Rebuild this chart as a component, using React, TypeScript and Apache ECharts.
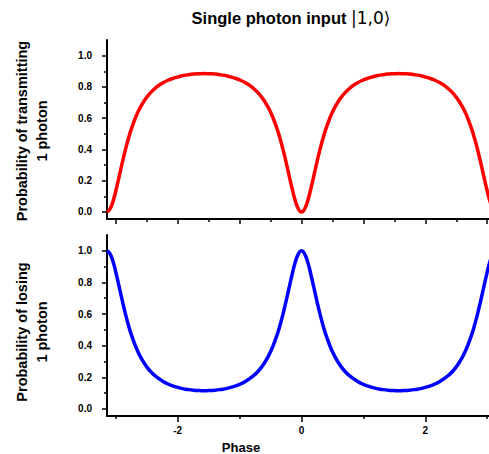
import React, { useEffect, useRef } from "react";
import * as echarts from "echarts";

const phase = [
  -3.142, -3.092, -3.042, -2.992, -2.942, -2.892, -2.842, -2.792, -2.742, -2.642,
  -2.542, -2.442, -2.342, -2.242, -2.142, -2.042, -1.942, -1.842, -1.742, -1.642,
  -1.571, -1.5, -1.4, -1.3, -1.2, -1.1, -1.0, -0.9, -0.8, -0.7,
  -0.6, -0.5, -0.4, -0.35, -0.3, -0.25, -0.2, -0.15, -0.1, -0.05,
  0,
  0.05, 0.1, 0.15, 0.2, 0.25, 0.3, 0.35, 0.4, 0.5, 0.6,
  0.7, 0.8, 0.9, 1.0, 1.1, 1.2, 1.3, 1.4, 1.5, 1.571,
  1.642, 1.742, 1.842, 1.942, 2.042, 2.142, 2.242, 2.342, 2.442, 2.542,
  2.642, 2.742, 2.792, 2.842, 2.892, 2.942, 2.992, 3.042, 3.092, 3.142,
];

const transmit = [
  0, 0.019, 0.071, 0.147, 0.233, 0.32, 0.402, 0.475, 0.538, 0.639,
  0.71, 0.762, 0.798, 0.825, 0.845, 0.859, 0.87, 0.877, 0.882, 0.884,
  0.885, 0.884, 0.882, 0.877, 0.87, 0.859, 0.845, 0.825, 0.798, 0.762,
  0.71, 0.639, 0.538, 0.475, 0.402, 0.32, 0.233, 0.147, 0.071, 0.019,
  0,
  0.019, 0.071, 0.147, 0.233, 0.32, 0.402, 0.475, 0.538, 0.639, 0.71,
  0.762, 0.798, 0.825, 0.845, 0.859, 0.87, 0.877, 0.882, 0.884, 0.885,
  0.884, 0.882, 0.877, 0.87, 0.859, 0.845, 0.825, 0.798, 0.762, 0.71,
  0.639, 0.538, 0.475, 0.402, 0.32, 0.233, 0.147, 0.071, 0.019, 0,
];

const loss = [
  1, 0.981, 0.929, 0.853, 0.767, 0.68, 0.598, 0.525, 0.462, 0.361,
  0.29, 0.238, 0.202, 0.175, 0.155, 0.141, 0.13, 0.123, 0.118, 0.116,
  0.115, 0.116, 0.118, 0.123, 0.13, 0.141, 0.155, 0.175, 0.202, 0.238,
  0.29, 0.361, 0.462, 0.525, 0.598, 0.68, 0.767, 0.853, 0.929, 0.981,
  1,
  0.981, 0.929, 0.853, 0.767, 0.68, 0.598, 0.525, 0.462, 0.361, 0.29,
  0.238, 0.202, 0.175, 0.155, 0.141, 0.13, 0.123, 0.118, 0.116, 0.115,
  0.116, 0.118, 0.123, 0.13, 0.141, 0.155, 0.175, 0.202, 0.238, 0.29,
  0.361, 0.462, 0.525, 0.598, 0.68, 0.767, 0.853, 0.929, 0.981, 1,
];

const yMajor = [0, 0.2, 0.4, 0.6, 0.8, 1.0];
const yMinor = [0.1, 0.3, 0.5, 0.7, 0.9];
const xTopMajor = [-3, -2, -1, 0, 1, 2, 3];
const xTopMinor = [-2.5, -1.5, -0.5, 0.5, 1.5, 2.5];
const xBotMajor = [-2, 0, 2];
const xBotMinor = [-3, -1, 1, 3];

const titleText = "Single photon input ";
const titleKet = "|1,0⟩";
const yNameTop = "Probability of transmitting\n1 photon";
const yNameBottom = "Probability of losing\n1 photon";
const xName = "Phase";

const FONT = "'Liberation Sans', Arial, sans-serif";

export default function App() {
  const ref = useRef<HTMLDivElement>(null);

  useEffect(() => {
    if (!ref.current) return;
    const chart = echarts.init(ref.current, undefined, { renderer: "svg" });

    const axisLine = { show: true, onZero: false, lineStyle: { color: "#000", width: 2 } };
    const tickStyle = { color: "#000", width: 1.5 };

    const xAxisBase = (grid: number) => ({
      type: "value" as const,
      gridIndex: grid,
      position: "bottom" as const,
      min: -Math.PI,
      max: Math.PI,
      splitLine: { show: false },
    });
    const yAxisBase = (grid: number) => ({
      type: "value" as const,
      gridIndex: grid,
      position: "left" as const,
      min: -0.045,
      max: 1.1,
      splitLine: { show: false },
    });

    const yMajorAxis = (grid: number) => ({
      ...yAxisBase(grid),
      axisLine,
      axisTick: { show: true, customValues: yMajor, length: 5, lineStyle: tickStyle },
      axisLabel: {
        show: true,
        customValues: yMajor,
        formatter: (v: number) => v.toFixed(1),
        fontFamily: FONT,
        fontWeight: "bold",
        fontSize: 10,
        color: "#000",
        margin: 15,
      },
    });
    const yMinorAxis = (grid: number) => ({
      ...yAxisBase(grid),
      axisLine: { show: false, onZero: false },
      axisTick: { show: true, customValues: yMinor, length: 3, lineStyle: tickStyle },
      axisLabel: { show: false },
    });

    chart.setOption({
      animation: false,
      grid: [
        { left: 107, width: 389, top: 40, height: 179, outerBoundsMode: "none", containLabel: false },
        { left: 107, width: 389, top: 235, height: 181, outerBoundsMode: "none", containLabel: false },
      ],
      xAxis: [
        {
          ...xAxisBase(0),
          axisLine,
          axisTick: { show: true, customValues: xTopMajor, length: 5, lineStyle: tickStyle },
          axisLabel: { show: false },
        },
        {
          ...xAxisBase(0),
          axisLine: { show: false, onZero: false },
          axisTick: { show: true, customValues: xTopMinor, length: 3, lineStyle: tickStyle },
          axisLabel: { show: false },
        },
        {
          ...xAxisBase(1),
          axisLine,
          axisTick: { show: true, customValues: xBotMajor, length: 6, lineStyle: tickStyle },
          axisLabel: {
            show: true,
            customValues: xBotMajor,
            formatter: (v: number) => String(Math.round(v)),
            fontFamily: FONT,
            fontWeight: "bold",
            fontSize: 10,
            color: "#000",
            margin: 9,
          },
        },
        {
          ...xAxisBase(1),
          axisLine: { show: false, onZero: false },
          axisTick: { show: true, customValues: xBotMinor, length: 3, lineStyle: tickStyle },
          axisLabel: { show: false },
        },
      ],
      yAxis: [yMajorAxis(0), yMinorAxis(0), yMajorAxis(1), yMinorAxis(1)],
      series: [
        {
          type: "line",
          xAxisIndex: 0,
          yAxisIndex: 0,
          data: transmit.map((v, i) => [phase[i], v]),
          smooth: true,
          showSymbol: false,
          lineStyle: { color: "#ff0000", width: 3.5 },
          itemStyle: { color: "#ff0000" },
        },
        {
          type: "line",
          xAxisIndex: 2,
          yAxisIndex: 2,
          data: loss.map((v, i) => [phase[i], v]),
          smooth: true,
          showSymbol: false,
          lineStyle: { color: "#0000ff", width: 3.5 },
          itemStyle: { color: "#0000ff" },
        },
      ],
      graphic: [
        {
          type: "text",
          x: 291,
          y: 18,
          style: {
            text: `{a|${titleText}}{b|${titleKet}}`,
            align: "center",
            verticalAlign: "middle",
            rich: {
              a: { fontFamily: FONT, fontWeight: "bold", fontSize: 16.5, fill: "#000" },
              b: { fontFamily: "'DejaVu Sans', sans-serif", fontWeight: "normal", fontSize: 17, fill: "#000" },
            },
          },
        },
        {
          type: "text",
          x: 32,
          y: 131,
          rotation: Math.PI / 2,
          style: {
            text: yNameTop,
            align: "center",
            verticalAlign: "middle",
            fontFamily: FONT,
            fontWeight: "bold",
            fontSize: 14.5,
            lineHeight: 20,
            fill: "#000",
          },
        },
        {
          type: "text",
          x: 32,
          y: 332,
          rotation: Math.PI / 2,
          style: {
            text: yNameBottom,
            align: "center",
            verticalAlign: "middle",
            fontFamily: FONT,
            fontWeight: "bold",
            fontSize: 14.5,
            lineHeight: 20,
            fill: "#000",
          },
        },
        {
          type: "text",
          x: 241,
          y: 447,
          style: {
            text: xName,
            align: "center",
            verticalAlign: "middle",
            fontFamily: FONT,
            fontWeight: "bold",
            fontSize: 13,
            fill: "#000",
          },
        },
      ],
    });

    return () => chart.dispose();
  }, []);

  return (
    <div
      ref={ref}
      style={{ position: "absolute", left: 0, top: 0, width: 489, height: 454, background: "#fff", overflow: "hidden" }}
    />
  );
}
